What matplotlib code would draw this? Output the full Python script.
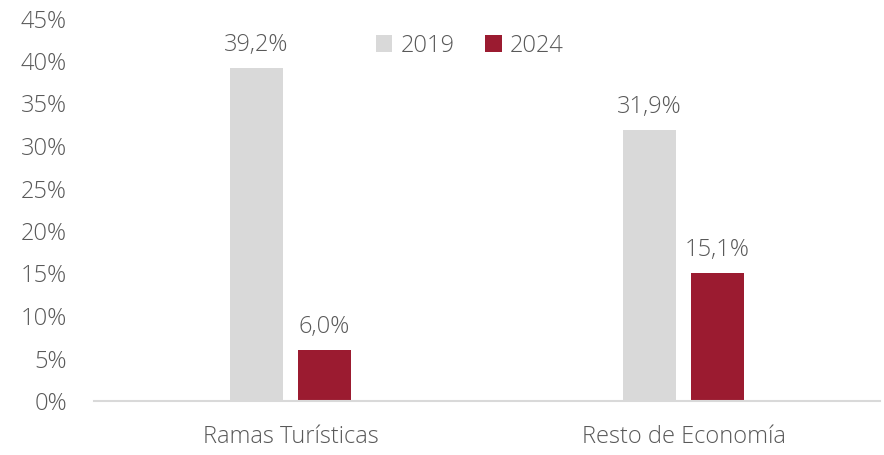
import numpy as np
import matplotlib.pyplot as plt

categories = ["Ramas Turísticas", "Resto de Economía"]
series_names = ["2019", "2024"]
values_2019 = [39.2, 31.9]
values_2024 = [6.0, 15.1]
yticks = [0, 5, 10, 15, 20, 25, 30, 35, 40, 45]

colors = ["#D9D9D9", "#9B1B30"]
text_color = "#595959"

plt.rcParams["font.family"] = ["Open Sans", "DejaVu Sans"]
plt.rcParams["font.weight"] = "light"
fs = 17

fig = plt.figure(figsize=(8.84, 4.55), dpi=100)
ax = fig.add_axes([94 / 884, 54 / 455, 786 / 884, 382.5 / 455])

x = np.arange(len(categories))
width = 0.135
offset = 0.0867

for vals, name, col, dx in [
    (values_2019, series_names[0], colors[0], -offset),
    (values_2024, series_names[1], colors[1], offset),
]:
    bars = ax.bar(x + dx, vals, width, color=col, label=name, zorder=2)
    for b, v in zip(bars, vals):
        ax.annotate(
            f"{v:.1f}%".replace(".", ","),
            (b.get_x() + b.get_width() / 2, v),
            xytext=(0, 8),
            textcoords="offset points",
            ha="center",
            va="bottom",
            fontsize=fs,
            color=text_color,
        )

ax.set_xlim(-0.5, 1.5)
ax.set_ylim(0, 45)
ax.set_yticks(yticks)
ax.set_yticklabels([f"{t}%" for t in yticks])
ax.set_xticks(x)
ax.set_xticklabels(categories)
ax.tick_params(axis="both", length=0, labelsize=fs, colors=text_color)
ax.tick_params(axis="y", pad=19.5)
ax.tick_params(axis="x", pad=17)

for s in ["top", "right", "left"]:
    ax.spines[s].set_visible(False)
ax.spines["bottom"].set_color("#D9D9D9")
ax.spines["bottom"].set_linewidth(1.5)

leg = ax.legend(
    loc="center",
    bbox_to_anchor=(470 / 884, 1 - 46 / 455),
    bbox_transform=fig.transFigure,
    ncol=2,
    frameon=False,
    fontsize=fs,
    handlelength=0.7,
    handleheight=0.7,
    handletextpad=0.35,
    columnspacing=1.3,
)
for t in leg.get_texts():
    t.set_color(text_color)

fig.savefig("out.png", dpi=100)
